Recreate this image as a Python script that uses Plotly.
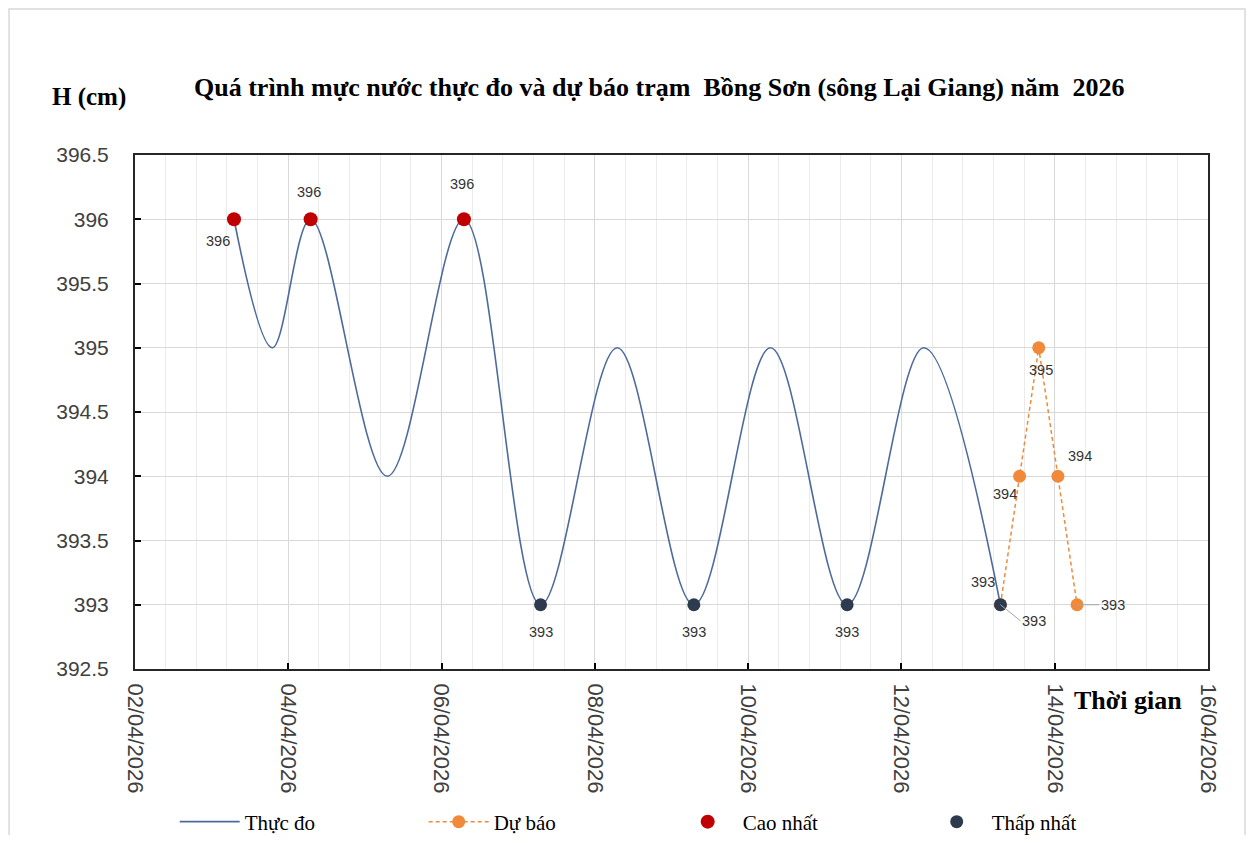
import plotly.graph_objects as go

# ---------------- data ----------------
obs_time = ["2026-04-03 07:00", "2026-04-03 19:00", "2026-04-04 07:00", "2026-04-05 07:00",
            "2026-04-06 07:00", "2026-04-07 07:00", "2026-04-08 07:00", "2026-04-09 07:00",
            "2026-04-10 07:00", "2026-04-11 07:00", "2026-04-12 07:00", "2026-04-13 07:00"]
obs_level = [396, 395, 396, 394, 396, 393, 395, 393, 395, 393, 395, 393]

fc_time = ["2026-04-13 07:00", "2026-04-13 13:00", "2026-04-13 19:00", "2026-04-14 01:00", "2026-04-14 07:00"]
fc_level = [393, 394, 395, 394, 393]

max_time = ["2026-04-03 07:00", "2026-04-04 07:00", "2026-04-06 07:00"]
max_level = [396, 396, 396]

min_time = ["2026-04-07 07:00", "2026-04-09 07:00", "2026-04-11 07:00", "2026-04-13 07:00"]
min_level = [393, 393, 393, 393]

title_text = "Quá trình mực nước thực đo và dự báo trạm  Bồng Sơn (sông Lại Giang) năm  2026"
y_title = "H (cm)"
x_title = "Thời gian"
names = ["Thực đo", "Dự báo", "Cao nhất", "Thấp nhất"]

# ---------------- styles ----------------
C_OBS = "#4C6A9C"
C_FC = "#F08A3A"
C_MAX = "#C00000"
C_MIN = "#2E3B4E"
SERIF = "Liberation Serif"
SANS = "Liberation Sans"

fig = go.Figure()
fig.add_trace(go.Scatter(x=obs_time, y=obs_level, mode="lines", name=names[0],
                         line=dict(color=C_OBS, width=1.6, shape="spline", smoothing=1.0)))
fig.add_trace(go.Scatter(x=fc_time, y=fc_level, mode="lines+markers", name=names[1],
                         line=dict(color=C_FC, width=1.5, dash="4px,3px"),
                         marker=dict(color=C_FC, size=13)))
fig.add_trace(go.Scatter(x=max_time, y=max_level, mode="markers", name=names[2],
                         marker=dict(color=C_MAX, size=14)))
fig.add_trace(go.Scatter(x=min_time, y=min_level, mode="markers", name=names[3],
                         marker=dict(color=C_MIN, size=13)))

lab_font = dict(family=SANS, size=14.5, color="#333333")
# label offsets (px) per point
max_off = [(-16, -22), (-2, 27), (-2, 35)]
min_off = [(0, -27), (0, -27), (0, -27), (-17, 23)]
fc_off = [(None, None), (-15, -18), (2, -22), (22, 20), (None, None)]

for t, v, (dx, dy) in zip(max_time, max_level, max_off):
    fig.add_annotation(x=t, y=v, text=str(v), showarrow=False, xshift=dx, yshift=dy, font=lab_font)
for t, v, (dx, dy) in zip(min_time, min_level, min_off):
    fig.add_annotation(x=t, y=v, text=str(v), showarrow=False, xshift=dx, yshift=dy, font=lab_font)
for i, (t, v) in enumerate(zip(fc_time, fc_level)):
    dx, dy = fc_off[i]
    if dx is None:
        continue
    fig.add_annotation(x=t, y=v, text=str(v), showarrow=False, xshift=dx, yshift=dy, font=lab_font)
# labels with leader lines
fig.add_annotation(x=fc_time[0], y=fc_level[0], text=str(fc_level[0]), showarrow=True,
                   ax=20, ay=16, arrowhead=0, arrowwidth=1, arrowcolor="#A6A6A6",
                   font=lab_font, xanchor="left")
fig.add_annotation(x=fc_time[-1], y=fc_level[-1], text=str(fc_level[-1]), showarrow=True,
                   ax=22, ay=0, arrowhead=0, arrowwidth=1, arrowcolor="#A6A6A6",
                   font=lab_font, xanchor="left")

# titles
fig.add_annotation(xref="paper", yref="paper", x=0.489, y=1.132, text="<b>" + title_text + "</b>",
                   showarrow=False, xanchor="center", yanchor="middle",
                   font=dict(family=SERIF, size=26, color="#000000"))
fig.add_annotation(xref="paper", yref="paper", x=-0.043, y=1.113, text="<b>" + y_title + "</b>",
                   showarrow=False, xanchor="center", yanchor="middle",
                   font=dict(family=SERIF, size=25, color="#000000"))
fig.add_annotation(xref="paper", yref="paper", x=0.925, y=-0.062, text="<b>" + x_title + "</b>",
                   showarrow=False, xanchor="center", yanchor="middle",
                   font=dict(family=SERIF, size=26, color="#000000"))

# outer border
fig.add_shape(type="rect", xref="paper", yref="paper", x0=-0.1174, x1=1.0345, y0=-0.35, y1=1.284,
              line=dict(color="#D9D9D9", width=1.5), layer="below")

fig.update_xaxes(type="date", range=["2026-04-02", "2026-04-16"],
                 tick0="2026-04-02", dtick=2 * 86400000, tickformat="%d/%m/%Y", tickangle=90,
                 ticks="inside", ticklen=6, tickcolor="#000000", tickwidth=1.5,
                 tickfont=dict(family=SANS, size=22, color="#404040"), ticklabelstandoff=8,
                 showgrid=True, gridcolor="#D9D9D9", gridwidth=1,
                 minor=dict(dtick=0.4 * 86400000, tick0="2026-04-02", showgrid=True,
                            gridcolor="#EBEBEB", gridwidth=1),
                 showline=True, linecolor="#262626", linewidth=2, mirror=True, zeroline=False,
                 automargin=False)
fig.update_yaxes(range=[392.5, 396.5], dtick=0.5,
                 ticks="inside", ticklen=6, tickcolor="#000000", tickwidth=1.5,
                 tickfont=dict(family=SANS, size=21, color="#404040"),
                 showgrid=True, gridcolor="#D9D9D9", gridwidth=1,
                 showline=True, linecolor="#262626", linewidth=2, mirror=True, zeroline=False,
                 ticklabelstandoff=20, automargin=False)

fig.update_layout(width=1239, height=827,
                  margin=dict(l=127, r=39, t=147, b=166, autoexpand=False),
                  paper_bgcolor="white", plot_bgcolor="white", showlegend=True,
                  legend=dict(orientation="h", x=0.037, xanchor="left", y=-0.2977, yanchor="middle",
                              font=dict(family=SERIF, size=21, color="#000000"),
                              itemwidth=60, entrywidth=174, traceorder="normal"))

fig.write_html("out.html")
